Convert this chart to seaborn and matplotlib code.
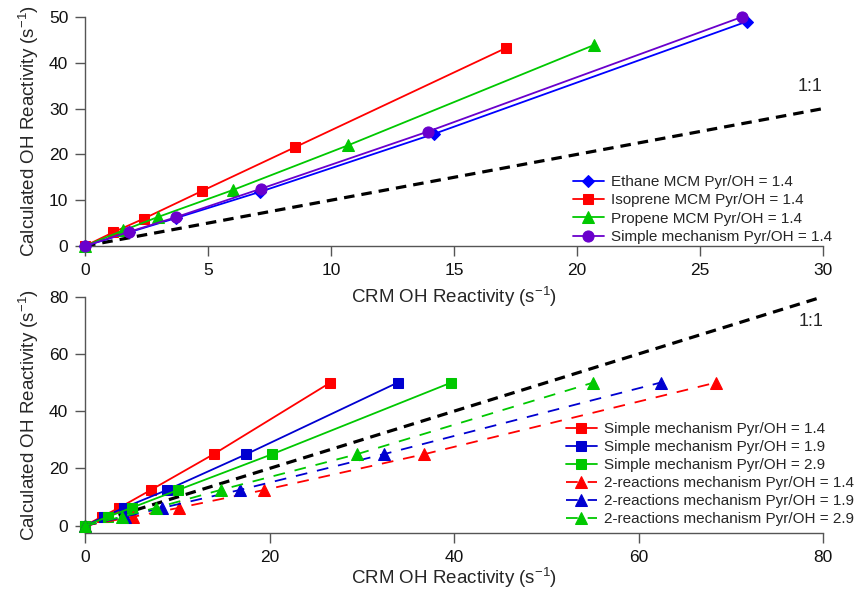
import numpy as np
import pandas as pd
import matplotlib
matplotlib.use('Agg')
import matplotlib.pyplot as plt
import seaborn as sns

# ===== data =====
# top panel: MCM vs simple mechanism, Pyr/OH = 1.4
ethane_x = [0, 1.8, 3.7, 7.1, 14.2, 26.9]
ethane_y = [0, 3.0, 6.1, 11.8, 24.5, 49.0]
isoprene_x = [0, 1.15, 2.4, 4.75, 8.55, 17.1]
isoprene_y = [0, 3.0, 6.0, 12.0, 21.6, 43.2]
propene_x = [0, 1.55, 2.95, 6.0, 10.7, 20.7]
propene_y = [0, 3.4, 6.3, 12.2, 22.0, 43.9]
simple_x = [0, 1.8, 3.7, 7.15, 13.95, 26.7]
simple_y = [0, 3.1, 6.3, 12.5, 25.0, 50.0]

# bottom panel: simple vs 2-reactions mechanism
calc_y = [0, 3.125, 6.25, 12.5, 25.0, 50.0]
simple14_x = [0, 1.8, 3.7, 7.15, 13.95, 26.6]
simple19_x = [0, 2.1, 4.2, 8.9, 17.5, 33.9]
simple29_x = [0, 2.5, 5.05, 10.1, 20.3, 39.7]
react14_x = [0, 5.2, 10.2, 19.45, 36.8, 68.4]
react19_x = [0, 4.3, 8.4, 16.8, 32.4, 62.4]
react29_x = [0, 4.0, 7.7, 14.7, 29.5, 55.1]

top_labels = ['Ethane MCM Pyr/OH = 1.4', 'Isoprene MCM Pyr/OH = 1.4',
              'Propene MCM Pyr/OH = 1.4', 'Simple mechanism Pyr/OH = 1.4']
bottom_labels = ['Simple mechanism Pyr/OH = 1.4', 'Simple mechanism Pyr/OH = 1.9',
                 'Simple mechanism Pyr/OH = 2.9', '2-reactions mechanism Pyr/OH = 1.4',
                 '2-reactions mechanism Pyr/OH = 1.9', '2-reactions mechanism Pyr/OH = 2.9']

RED = '#FF0000'
BLUE = '#0000FF'
DBLUE = '#0000D0'
GREEN = '#00C800'
PURPLE = '#6A00CC'
AXCOL = '#555555'

sns.set_style('ticks')
plt.rcParams['font.family'] = ['Liberation Sans', 'DejaVu Sans']
plt.rcParams['mathtext.fontset'] = 'custom'
plt.rcParams['mathtext.rm'] = 'Liberation Sans'
plt.rcParams['mathtext.it'] = 'Liberation Sans'
plt.rcParams['axes.unicode_minus'] = False

fig = plt.figure(figsize=(8.62, 5.90), dpi=100)
ax1 = fig.add_axes([85 / 862, 1 - 246 / 590, 738 / 862, 229 / 590])
ax2 = fig.add_axes([85 / 862, 1 - 533 / 590, 738 / 862, (533 - 296.7) / 590])


def draw(ax, x, y, color, marker, ms, label, dashed=False):
    sns.lineplot(x=x, y=y, ax=ax, color=color, marker=marker, markersize=ms,
                 markeredgecolor=color, linewidth=1.3, sort=False, label=label,
                 clip_on=False, zorder=3)
    line = ax.lines[-1]
    if dashed:
        line.set_dashes((6.5, 5.5))
    return line


# ===== top panel =====
h_top = []
h_top.append(draw(ax1, ethane_x, ethane_y, BLUE, 'D', 6, top_labels[0]))
h_top.append(draw(ax1, isoprene_x, isoprene_y, RED, 's', 7.5, top_labels[1]))
h_top.append(draw(ax1, propene_x, propene_y, GREEN, '^', 8, top_labels[2]))
h_top.append(draw(ax1, simple_x, simple_y, PURPLE, 'o', 8, top_labels[3]))
ax1.plot([0, 30], [0, 30], color='black', linewidth=2.3, dashes=(3.3, 2.2), zorder=2)
ax1.text(30, 34.8, '1:1', ha='right', va='center', fontsize=13)
ax1.set_xlim(0, 30)
ax1.set_ylim(0, 50)
ax1.set_xticks([0, 5, 10, 15, 20, 25, 30])
ax1.set_yticks([0, 10, 20, 30, 40, 50])

# ===== bottom panel =====
h_bot = []
h_bot.append(draw(ax2, simple14_x, calc_y, RED, 's', 7.5, bottom_labels[0]))
h_bot.append(draw(ax2, simple19_x, calc_y, DBLUE, 's', 7.5, bottom_labels[1]))
h_bot.append(draw(ax2, simple29_x, calc_y, GREEN, 's', 7.5, bottom_labels[2]))
h_bot.append(draw(ax2, react14_x, calc_y, RED, '^', 8, bottom_labels[3], dashed=True))
h_bot.append(draw(ax2, react19_x, calc_y, DBLUE, '^', 8, bottom_labels[4], dashed=True))
h_bot.append(draw(ax2, react29_x, calc_y, GREEN, '^', 8, bottom_labels[5], dashed=True))
ax2.plot([0, 80], [0, 80], color='black', linewidth=2.3, dashes=(3.3, 2.2), zorder=2)
ax2.text(80, 71.3, '1:1', ha='right', va='center', fontsize=13)
ax2.set_xlim(0, 80)
ax2.set_ylim(-2.55, 80)
ax2.set_xticks([0, 20, 40, 60, 80])
ax2.set_yticks([0, 20, 40, 60, 80])

for ax, xpad in ((ax1, 5), (ax2, 1)):
    sns.despine(ax=ax)
    for s in ('left', 'bottom'):
        ax.spines[s].set_color(AXCOL)
        ax.spines[s].set_linewidth(1.0)
    ax.tick_params(axis='both', direction='out', length=7, width=1.0,
                   color=AXCOL, labelsize=12.5, labelcolor='#111111', pad=5)
    ax.set_xlabel('CRM OH Reactivity (s$^{-1}$)', fontsize=13.5, labelpad=xpad)
    ax.set_ylabel('Calculated OH Reactivity (s$^{-1}$)', fontsize=13.5, labelpad=6)
    ax.set_facecolor('none')
    if ax.get_legend() is not None:
        ax.get_legend().remove()

ax1.legend(handles=h_top, labels=top_labels, loc='center left',
           bbox_to_anchor=(573 / 862, 1 - 209.5 / 590), bbox_transform=fig.transFigure,
           frameon=False, fontsize=11, handlelength=2.0, handletextpad=0.5,
           labelspacing=0.28, borderaxespad=0, borderpad=0)
ax2.legend(handles=h_bot, labels=bottom_labels, loc='center left',
           bbox_to_anchor=(566 / 862, 1 - 474 / 590), bbox_transform=fig.transFigure,
           frameon=False, fontsize=11, handlelength=2.0, handletextpad=0.5,
           labelspacing=0.26, borderaxespad=0, borderpad=0)

fig.savefig('out.png', dpi=100)
